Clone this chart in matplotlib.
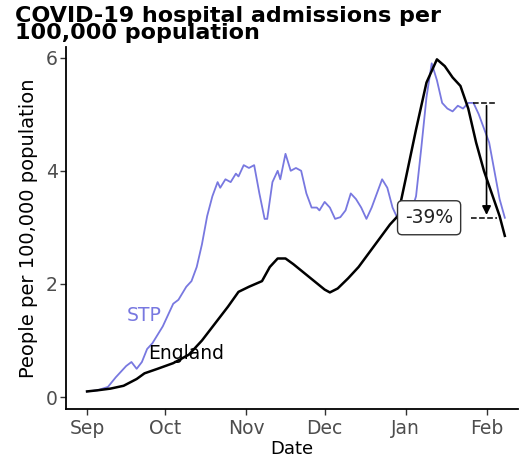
import matplotlib
matplotlib.use("Agg")
import matplotlib.pyplot as plt
import matplotlib.dates as mdates
import pandas as pd

# STP series (7-day rolling admissions per 100k)
stp_dates = ["2020-09-01", "2020-09-05", "2020-09-09", "2020-09-12", "2020-09-14",
             "2020-09-16", "2020-09-18", "2020-09-20", "2020-09-22", "2020-09-24",
             "2020-09-26", "2020-09-28", "2020-09-30", "2020-10-02", "2020-10-04",
             "2020-10-06", "2020-10-09", "2020-10-11", "2020-10-13", "2020-10-15",
             "2020-10-17", "2020-10-19", "2020-10-21", "2020-10-22", "2020-10-24",
             "2020-10-26", "2020-10-28", "2020-10-29", "2020-10-31", "2020-11-02",
             "2020-11-04", "2020-11-06", "2020-11-08", "2020-11-09", "2020-11-11",
             "2020-11-13", "2020-11-14", "2020-11-16", "2020-11-18", "2020-11-20",
             "2020-11-22", "2020-11-24", "2020-11-26", "2020-11-28", "2020-11-29",
             "2020-12-01", "2020-12-03", "2020-12-05", "2020-12-07", "2020-12-09",
             "2020-12-11", "2020-12-13", "2020-12-15", "2020-12-17", "2020-12-19",
             "2020-12-21", "2020-12-23", "2020-12-25", "2020-12-27", "2020-12-29",
             "2020-12-31", "2021-01-03", "2021-01-05", "2021-01-07", "2021-01-09",
             "2021-01-11", "2021-01-13", "2021-01-15", "2021-01-17", "2021-01-19",
             "2021-01-21", "2021-01-23", "2021-01-25", "2021-01-27", "2021-01-29",
             "2021-01-31", "2021-02-02", "2021-02-04", "2021-02-06", "2021-02-08"]
stp_values = [0.10, 0.12, 0.18, 0.35, 0.45,
              0.55, 0.62, 0.50, 0.62, 0.85,
              0.95, 1.10, 1.25, 1.45, 1.65,
              1.72, 1.95, 2.05, 2.30, 2.70,
              3.20, 3.55, 3.80, 3.70, 3.85,
              3.80, 3.95, 3.90, 4.10, 4.05,
              4.10, 3.60, 3.15, 3.15, 3.80,
              4.00, 3.85, 4.30, 4.00, 4.05,
              4.00, 3.60, 3.35, 3.35, 3.30,
              3.45, 3.35, 3.15, 3.18, 3.30,
              3.60, 3.50, 3.35, 3.15, 3.35,
              3.60, 3.85, 3.70, 3.35, 3.15,
              3.15, 3.25, 3.55, 4.40, 5.30,
              5.90, 5.60, 5.20, 5.10, 5.05,
              5.15, 5.10, 5.20, 5.20, 5.00,
              4.75, 4.50, 4.00, 3.50, 3.17]

# England series
eng_dates = ["2020-09-01", "2020-09-05", "2020-09-10", "2020-09-15", "2020-09-20",
             "2020-09-23", "2020-09-28", "2020-10-04", "2020-10-10", "2020-10-15",
             "2020-10-20", "2020-10-22", "2020-10-25", "2020-10-29", "2020-11-02",
             "2020-11-07", "2020-11-10", "2020-11-13", "2020-11-16", "2020-11-19",
             "2020-11-23", "2020-11-27", "2020-12-01", "2020-12-03", "2020-12-06",
             "2020-12-10", "2020-12-14", "2020-12-18", "2020-12-22", "2020-12-26",
             "2020-12-29", "2021-01-01", "2021-01-05", "2021-01-09", "2021-01-13",
             "2021-01-16", "2021-01-19", "2021-01-22", "2021-01-25", "2021-01-28",
             "2021-01-31", "2021-02-03", "2021-02-06", "2021-02-08"]
eng_values = [0.10, 0.12, 0.15, 0.20, 0.32,
              0.42, 0.50, 0.60, 0.75, 1.00,
              1.30, 1.42, 1.60, 1.86, 1.95,
              2.05, 2.30, 2.45, 2.45, 2.35,
              2.20, 2.05, 1.90, 1.85, 1.92,
              2.10, 2.30, 2.55, 2.80, 3.05,
              3.20, 3.85, 4.73, 5.56, 5.97,
              5.85, 5.65, 5.50, 5.10, 4.50,
              4.00, 3.60, 3.20, 2.85]

# change annotation
peak_value = 5.2
latest_value = 3.17
change_label = "-39%"

stp = pd.Series(stp_values, index=pd.to_datetime(stp_dates))
eng = pd.Series(eng_values, index=pd.to_datetime(eng_dates))

stp_col = "#7878e0"

fig = plt.figure(figsize=(5.21, 4.69), dpi=100)
ax = fig.add_axes([0.127, 0.128, 0.867, 0.772])

ax.plot(stp.index, stp.values, color=stp_col, lw=1.3)
ax.plot(eng.index, eng.values, color="black", lw=1.8)

ax.text(pd.Timestamp("2020-09-23"), 1.45, "STP", color=stp_col, fontsize=13.5, ha="center", va="center")
ax.text(pd.Timestamp("2020-10-09"), 0.77, "England", color="black", fontsize=13.5, ha="center", va="center")

# dashed guides and arrow
x_top0 = pd.Timestamp("2021-01-27")
x_end = pd.Timestamp("2021-02-05")
x_arrow = pd.Timestamp("2021-02-01")
ax.plot([x_top0, x_end], [peak_value, peak_value], color="black", ls="--", lw=1.1)
ax.plot([pd.Timestamp("2021-01-26"), x_end], [latest_value, latest_value], color="black", ls="--", lw=1.1)
ax.annotate("", xy=(x_arrow, latest_value), xytext=(x_arrow, peak_value),
            arrowprops=dict(arrowstyle="-|>", color="black", lw=1.2, mutation_scale=13))
ax.text(pd.Timestamp("2021-01-10"), latest_value, change_label, fontsize=13.5, color="#222222",
        ha="center", va="center",
        bbox=dict(boxstyle="round,pad=0.4,rounding_size=0.25", fc="white", ec="#333333", lw=1.0))

ax.set_xlim(pd.Timestamp("2020-08-24"), pd.Timestamp("2021-02-13"))
ax.set_ylim(-0.21, 6.19)
ax.set_yticks([0, 2, 4, 6])
ax.xaxis.set_major_locator(mdates.MonthLocator())
ax.xaxis.set_major_formatter(mdates.DateFormatter("%b"))

for s in ["top", "right"]:
    ax.spines[s].set_visible(False)
for s in ["left", "bottom"]:
    ax.spines[s].set_linewidth(1.3)
ax.tick_params(colors="#4d4d4d", labelsize=13.5, length=4, width=1, pad=2)
ax.tick_params(axis="both", color="#333333")
ax.tick_params(axis="x", pad=3)

ax.set_xlabel("Date", fontsize=13, labelpad=2)
ax.set_ylabel("People per 100,000 population", fontsize=14, labelpad=6)

fig.text(0.028, 0.987, "COVID-19 hospital admissions per\n100,000 population", fontsize=16,
         fontweight="bold", va="top", ha="left", linespacing=0.8)

fig.savefig("out.png", dpi=100)
